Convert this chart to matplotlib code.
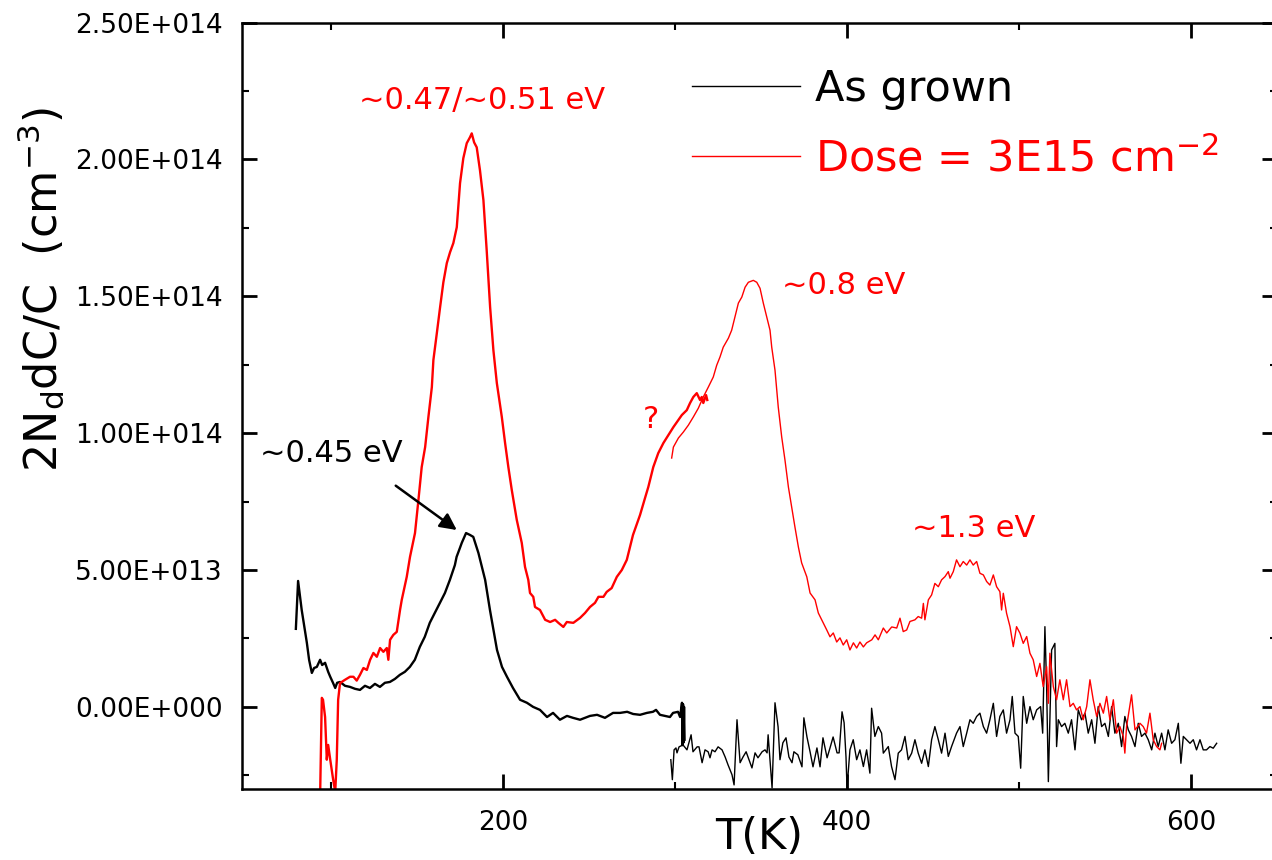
import matplotlib
matplotlib.use("Agg")
import matplotlib.pyplot as plt
from matplotlib.ticker import MultipleLocator, FuncFormatter

# ---------------- data (y in units of 1e13 cm^-3) ----------------
SCALE = 1e13

asgrown_lowT_T = [79.3, 80.6, 82.7, 85.7, 87.0, 88.6, 89.9, 91.5, 93.4, 94.6, 96.3, 98.1, 99.3,
                  100.9, 102.2, 103.3, 105.0, 107.9, 110.8, 113.7, 116.6, 119.5, 122.4, 125.3,
                  128.2, 131.1, 134.0, 136.9, 139.8, 142.7, 145.6, 148.5, 151.4, 154.3, 157.2,
                  160.1, 163.1, 166.0, 168.9, 171.8, 172.8, 174.7, 175.8, 178.3, 180.6, 182.5,
                  185.5, 189.4, 192.2, 196.3, 199.2, 202.1, 205.6, 209.7, 213.7, 217.3, 221.3,
                  225.4, 228.9, 232.9, 237.0, 240.5, 244.6, 250.4, 254.5, 259.1, 263.8, 267.9,
                  272.0, 275.5, 279.5, 283.5, 287.0, 288.8, 291.1, 294.0, 296.9, 298.7, 301.6,
                  302.8, 303.9, 304.2, 304.5, 304.8, 305.1, 305.4]
asgrown_lowT_y = [2.85, 4.60, 3.54, 2.34, 1.72, 1.24, 1.42, 1.46, 1.72, 1.53, 1.61, 1.28, 1.10,
                  0.88, 0.69, 0.88, 0.91, 0.77, 0.73, 0.66, 0.62, 0.77, 0.69, 0.84,
                  0.73, 0.88, 0.91, 1.02, 1.17, 1.28, 1.46, 1.72, 2.19, 2.56, 3.07,
                  3.43, 3.80, 4.16, 4.64, 5.18, 5.48, 5.80, 5.99, 6.35, 6.28, 6.21,
                  5.62, 4.64, 3.54, 2.08, 1.46, 1.10, 0.69, 0.26, 0.15, 0.00, -0.11,
                  -0.37, -0.22, -0.47, -0.33, -0.40, -0.47, -0.33, -0.29, -0.40, -0.22, -0.22,
                  -0.18, -0.26, -0.29, -0.22, -0.18, -0.11, -0.29, -0.33, -0.37, -0.22, -0.18,
                  -0.37, 0.15, -1.40, 0.10, -1.30, 0.00, -1.20]

asgrown_highT_T = [297.4, 298.3, 299.3, 300.4, 301.0, 302.2, 304.5, 306.8, 309.2, 310.3, 312.7,
                   313.8, 315.6, 317.3, 319.1, 320.2, 321.4, 323.1, 324.9, 327.2, 329.0, 330.7,
                   333.0, 334.2, 335.9, 337.7, 339.4, 341.2, 342.3, 344.6, 346.4, 348.1, 350.5,
                   352.2, 353.4, 354.0, 356.3, 358.0, 359.8, 360.9, 362.6, 364.4, 366.1, 367.9,
                   369.0, 371.3, 373.7, 374.8, 376.6, 378.4, 380.1, 382.4, 384.2, 385.9, 388.3,
                   390.0, 391.8, 394.1, 395.3, 397.0, 398.2, 399.3, 399.9, 401.6,
                   403.5, 405.5, 407.4, 409.4, 411.3, 413.2, 414.2, 416.1, 418.1, 420.0, 421.0,
                   423.9, 425.8, 427.8, 429.7, 431.6, 433.6, 435.5, 437.5, 439.4, 441.3, 443.3,
                   445.2, 447.2, 449.1, 451.0, 453.0, 454.9, 456.9, 458.8, 460.7, 463.6, 465.6,
                   467.5, 469.5, 471.4, 473.3, 475.3, 477.2, 479.2, 481.1, 483.0, 485.0, 486.9,
                   488.8, 490.8, 492.7, 494.7, 496.0, 497.6, 499.5, 500.9, 502.4, 504.4, 506.3,
                   508.2, 510.2, 512.5, 513.7, 515.0, 516.0, 517.0, 517.9, 518.9, 520.8, 521.8,
                   522.8, 524.7, 526.6, 528.6, 530.5, 532.5, 534.4, 536.3, 538.3, 540.2, 542.2,
                   544.1, 546.0, 548.0, 549.9, 551.9, 553.8, 555.7, 557.7, 559.6, 561.5, 563.5,
                   565.4, 567.4, 569.3, 571.2, 573.2, 575.1, 577.1, 579.0, 580.9, 582.9, 584.8,
                   586.7, 588.7, 590.6, 592.6, 594.1, 595.5, 597.4, 599.4, 601.3, 603.2, 605.2,
                   607.1, 609.0, 611.0, 612.9, 614.9]
asgrown_highT_y = [-1.93, -2.66, -1.57, -1.50, -1.68, -1.46, -1.39, -1.57, -1.02, -1.64, -1.46,
                   -1.46, -2.04, -1.57, -1.64, -1.86, -1.57, -1.64, -1.46, -1.57, -1.83, -2.12,
                   -2.48, -2.85, -0.47, -2.04, -1.83, -1.64, -1.83, -2.23, -1.68, -1.86, -1.64,
                   -1.57, -1.68, -1.02, -2.96, 0.15, -0.73, -1.93, -1.31, -1.13, -1.83, -2.04,
                   -1.64, -1.75, -2.19, -0.40, -1.10, -1.64, -2.19, -1.50, -2.19, -1.13, -1.86,
                   -1.50, -1.10, -1.68, -1.68, -0.18, -0.58, -1.83, -2.96, -1.57,
                   -1.20, -1.93, -1.57, -2.18, -1.57, -2.42, -0.05, -1.08, -0.72, -0.96, -1.69,
                   -1.45, -2.18, -2.66, -1.69, -1.57, -1.08, -1.93, -1.69, -1.20, -1.69, -2.06,
                   -1.57, -2.18, -1.20, -0.72, -1.20, -1.69, -0.96, -1.81, -1.45, -0.96, -0.72,
                   -1.45, -0.96, -0.47, -0.60, -0.35, -0.23, -0.72, -0.96, -0.47, 0.13, -1.08,
                   -0.35, -0.11, -0.96, -0.47, 0.38, -0.96, -1.08, -2.24, 0.38, -0.60, 0.01,
                   -0.47, -0.11, 0.01, -0.96, 2.93, 0.74, -2.73, -0.47, 2.08, 2.32, -1.45,
                   -0.47, -0.72, -0.60, -0.96, -0.47, -1.57, -0.11, -0.47, -0.23, -0.96, -0.47,
                   -1.33, 0.01, -0.72, -0.60, -1.08, 0.01, -0.96, -0.60, -1.45, -0.35, -0.84,
                   -1.08, -1.45, -0.60, -1.08, -0.96, -1.20, -1.57, -0.96, -1.45, -0.96, -1.57,
                   -0.84, -1.33, -1.20, -0.60, -2.06, -1.08, -1.20, -1.33, -1.20, -1.57, -1.20,
                   -1.57, -1.57, -1.45, -1.51, -1.33]

dose_lowT_T = [93.4, 94.4, 95.1, 96.3, 97.3, 98.1, 99.3, 101.0, 102.2, 103.1, 103.9, 105.0,
               107.9, 110.8, 112.8, 114.7, 116.6, 118.6, 120.6, 122.5, 124.4, 126.4, 128.3,
               130.2, 132.2, 133.1, 134.1, 136.0, 138.0, 139.9, 140.9, 143.8, 145.7, 148.6,
               150.6, 152.5, 154.5, 156.4, 158.4, 159.3, 161.3, 163.2, 165.1, 167.1, 169.0,
               170.9, 172.9, 174.8, 176.7, 178.7, 180.6, 181.6, 183.0, 184.5, 186.4, 188.4,
               190.3, 192.3, 194.2, 196.2, 199.1, 201.0, 202.9, 204.9, 207.8, 210.7, 212.6,
               214.5, 215.5, 217.4, 218.4, 221.3, 224.3, 227.2, 230.1, 232.0, 234.9, 236.9,
               240.7, 244.6, 247.5, 250.4, 253.3, 255.3, 258.2, 260.1, 263.0, 266.0, 268.9,
               271.8, 275.4, 279.5, 282.4, 284.3, 287.2, 290.1, 293.1, 296.0, 298.9, 301.8,
               303.8, 306.7, 308.6, 310.5, 312.5, 314.4, 315.4, 316.3, 317.9, 318.6]
dose_lowT_y = [-3.30, 0.33, 0.26, -0.37, -1.93, -1.39, -1.93, -2.66, -3.10, -1.93, 0.26, 0.87,
               0.99, 1.10, 1.10, 0.96, 1.17, 1.42, 1.35, 1.72, 1.97, 1.83, 2.15,
               2.01, 2.15, 1.72, 2.45, 2.63, 2.74, 3.54, 3.91, 4.75, 5.48, 6.35,
               7.56, 8.76, 9.49, 10.59, 11.68, 12.67, 13.65, 14.60, 15.51, 16.21, 16.61,
               16.94, 17.52, 19.13, 20.04, 20.59, 20.81, 20.95, 20.62, 20.44, 19.60, 18.51,
               16.68, 14.60, 13.03, 11.83, 10.59, 9.64, 8.76, 7.92, 6.83, 5.99, 5.11,
               4.64, 4.16, 4.02, 3.65, 3.54, 3.18, 3.10, 3.18, 3.07, 2.92, 3.10,
               3.07, 3.25, 3.43, 3.65, 3.80, 4.02, 4.02, 4.20, 4.34, 4.75, 5.00,
               5.37, 6.28, 7.01, 7.63, 8.03, 8.76, 9.27, 9.64, 9.93, 10.22, 10.48,
               10.66, 10.84, 11.10, 11.32, 11.46, 11.21, 11.32, 11.10, 11.39, 11.21]

dose_highT_T = [297.9, 298.9, 301.8, 304.7, 307.6, 310.5, 313.4, 316.3, 319.2, 322.1, 324.1,
                326.0, 327.9, 330.9, 332.8, 334.7, 336.7, 338.7, 340.6, 342.5, 345.4, 347.4,
                349.3, 351.2, 353.2, 355.1, 356.1, 358.0, 359.9, 361.9, 363.8, 365.8, 367.7,
                369.6, 371.6, 373.5, 376.5, 378.4, 381.3, 383.2, 385.2, 388.1, 390.0, 391.9,
                393.9, 395.8, 397.7, 399.7, 401.6, 403.6, 405.5, 407.4, 409.4, 411.3, 414.3,
                416.2, 418.1, 421.0, 423.0, 425.9, 428.8, 430.7, 432.6, 434.6, 436.5, 439.4,
                441.3, 443.3, 444.3, 445.2, 447.2, 449.1, 451.0, 453.0, 454.9, 456.9, 458.8,
                459.8, 461.7, 463.6, 465.6, 467.5, 469.5, 471.4, 473.3, 475.3, 477.2, 479.2,
                481.1, 483.0, 485.0, 486.9, 488.8, 489.8, 490.8, 492.7, 494.7, 496.6, 498.5,
                500.5, 502.4, 504.4, 506.3, 508.2, 510.2, 512.1, 514.0, 516.0, 517.0, 517.9,
                519.9, 521.8, 523.7, 525.7, 527.6, 529.6, 531.5, 533.4, 535.4, 537.3, 539.3,
                541.2, 543.1, 545.1, 547.0, 549.0, 550.9, 552.8, 554.8, 556.7, 558.6, 560.6,
                561.5, 562.5, 565.4, 567.4, 570.3, 572.2, 574.1, 576.1, 578.0, 580.0, 581.9,
                582.9]
dose_highT_y = [9.09, 9.49, 9.82, 10.04, 10.29, 10.59, 10.91, 11.32, 11.68, 12.05, 12.48,
                12.78, 13.14, 13.47, 13.76, 14.24, 14.75, 14.97, 15.33, 15.51, 15.58, 15.51,
                15.29, 14.75, 14.24, 13.76, 13.14, 12.30, 10.95, 9.86, 9.02, 8.03, 7.30,
                6.57, 5.84, 5.26, 4.75, 4.16, 3.91, 3.43, 3.18, 2.81, 2.56, 2.70,
                2.37, 2.52, 2.26, 2.45, 2.08, 2.34, 2.15, 2.37, 2.19, 2.34, 2.45,
                2.63, 2.45, 2.88, 2.70, 2.92, 2.88, 3.24, 2.75, 2.81, 3.12, 3.18,
                3.30, 3.24, 3.78, 3.18, 3.91, 4.09, 4.51, 4.39, 4.64, 4.76, 4.94,
                4.70, 4.94, 5.37, 5.12, 5.31, 5.18, 5.37, 5.18, 5.31, 4.88, 4.82,
                4.58, 4.45, 4.82, 4.39, 4.21, 3.54, 4.15, 3.42, 2.93, 2.20, 2.93,
                2.69, 2.32, 2.57, 1.96, 1.72, 1.11, 1.59, 0.74, 1.47, 0.13, 1.96,
                0.74, 0.26, 0.99, 0.26, 0.99, 0.01, 0.13, -0.11, 0.01, -0.47, 0.01,
                0.99, 0.26, -0.35, 0.13, -0.23, 0.38, -0.47, 0.26, -0.96, -0.72, -1.08,
                -1.69, -0.72, 0.44, -0.84, -0.60, -0.72, -0.96, -0.23, -1.20, -1.45, -1.57,
                -1.33]

legend_labels = ["As grown", "Dose = 3E15 cm$^{\\mathregular{-2}}$"]
x_major_ticks = [200, 400, 600]

# ---------------- figure ----------------
plt.rcParams['font.family'] = ['DejaVu Sans']
fig = plt.figure(figsize=(12.72, 8.60), dpi=100)
ax = fig.add_axes([241.7 / 1272, 1 - 789 / 860, (1277 - 241.7) / 1272, (789 - 22.5) / 860])

def sc(v):
    return [a * SCALE for a in v]

ax.plot(asgrown_lowT_T, sc(asgrown_lowT_y), color='black', lw=1.7, solid_joinstyle='round')
l_black, = ax.plot(asgrown_highT_T, sc(asgrown_highT_y), color='black', lw=1.0)
ax.plot(dose_lowT_T, sc(dose_lowT_y), color='red', lw=1.7, solid_joinstyle='round')
l_red, = ax.plot(dose_highT_T, sc(dose_highT_y), color='red', lw=1.0)

ax.set_xlim(47.8, 650)
ax.set_ylim(-3.0e13, 2.5e14)

ax.xaxis.set_major_locator(plt.FixedLocator(x_major_ticks))
ax.xaxis.set_minor_locator(MultipleLocator(100))
ax.yaxis.set_major_locator(MultipleLocator(5e13))
ax.yaxis.set_minor_locator(MultipleLocator(2.5e13))

def efmt(v, pos):
    s = f"{v:.2E}"
    m, e = s.split('E')
    return f"{m}E{e[0]}{int(e[1:]):03d}"

ax.yaxis.set_major_formatter(FuncFormatter(efmt))

for sp in ax.spines.values():
    sp.set_linewidth(1.8)

ax.tick_params(which='both', direction='in', top=True, right=True)
ax.tick_params(which='major', length=11, width=2.0, labelsize=19)
ax.tick_params(which='minor', length=5, width=1.5)
ax.tick_params(axis='y', which='major', pad=13.5)
ax.tick_params(axis='x', which='major', pad=15)

ax.set_xlabel('T(K)', fontsize=31)
ax.xaxis.set_label_coords(0.5, -0.062)
ax.xaxis.label.set_va('center')
ax.set_ylabel(r'2N$_{\rm d}$dC/C  (cm$^{\mathregular{-3}}$)', fontsize=32)
ax.yaxis.set_label_coords(-0.193, 0.651)
ax.yaxis.label.set_va('center')

# legend
leg = ax.legend([l_black, l_red], legend_labels, frameon=False, fontsize=31,
                loc='upper left', bbox_to_anchor=(0.435, 0.940), borderpad=0,
                borderaxespad=0, handlelength=2.5, handletextpad=0.35, labelspacing=0.63)
for t, c in zip(leg.get_texts(), ['black', 'red']):
    t.set_color(c)

# annotations
ax.text(187.6, 22.16e13, '~0.47/~0.51 eV', color='red', fontsize=22, ha='center', va='center')
ax.text(398.2, 15.40e13, '~0.8 eV', color='red', fontsize=22, ha='center', va='center')
ax.text(285.9, 10.51e13, '?', color='red', fontsize=22, ha='center', va='center')
ax.text(473.8, 6.53e13, '~1.3 eV', color='red', fontsize=22, ha='center', va='center')
ax.text(99.8, 9.27e13, '~0.45 eV', color='black', fontsize=22, ha='center', va='center')
ax.annotate('', xy=(172.9, 6.46e13), xytext=(137.4, 8.08e13),
            arrowprops=dict(arrowstyle='-|>', lw=1.8, mutation_scale=25, color='black',
                            shrinkA=0, shrinkB=0))

fig.savefig('out.png', dpi=100)
